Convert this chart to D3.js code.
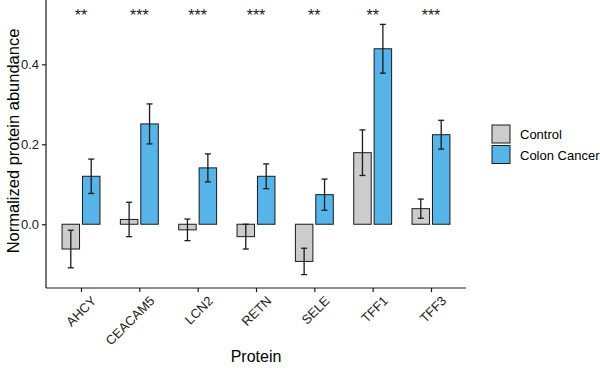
<!DOCTYPE html>
<html>
<head>
<meta charset="utf-8">
<script src="https://cdn.jsdelivr.net/npm/d3@7"></script>
<style>
  body { margin: 0; background: #fff; }
  text { font-family: Arial, "Liberation Sans", sans-serif; }
</style>
</head>
<body>
<div id="chart"></div>
<script>
// proteins and the two groups
let proteins = ['AHCY', 'CEACAM5', 'LCN2', 'RETN', 'SELE', 'TFF1', 'TFF3']
let groups = ['Control', 'Colon Cancer']
let controlMean = [-0.062, 0.012, -0.014, -0.031, -0.093, 0.179, 0.039]
let controlErr = [0.047, 0.043, 0.027, 0.031, 0.033, 0.057, 0.024]
let cancerMean = [0.12, 0.251, 0.141, 0.12, 0.074, 0.439, 0.224]
let cancerErr = [0.043, 0.05, 0.035, 0.031, 0.039, 0.061, 0.036]
let stars = ['**', '***', '***', '***', '**', '**', '***']
let yTicks = [0.0, 0.2, 0.4]

var margin = { top: 0, left: 46, right: 134, bottom: 80 }
let width = 600
let height = 368

let svg = d3
  .select('#chart')
  .append('svg')
  .attr('width', width)
  .attr('height', height)

var colorScale = d3.scaleOrdinal().domain(groups).range(['#cccccc', '#56b4e9'])

// ggplot style discrete axis: 0.6 units of padding either side
var xScale = d3
  .scaleLinear()
  .domain([-0.6, proteins.length - 1 + 0.6])
  .range([margin.left, width - margin.right])

var yScale = d3
  .scaleLinear()
  .domain([-0.1595, 0.561])
  .range([height - margin.bottom, margin.top])

var unit = xScale(1) - xScale(0)

var rows = []
proteins.forEach((p, i) => {
  rows.push({ protein: p, i: i, group: 'Control', mean: controlMean[i], err: controlErr[i], off: -0.175 })
  rows.push({ protein: p, i: i, group: 'Colon Cancer', mean: cancerMean[i], err: cancerErr[i], off: 0.175 })
})

// bars
svg
  .selectAll('.bar')
  .data(rows)
  .enter()
  .append('rect')
  .attr('class', 'bar')
  .attr('x', d => xScale(d.i + d.off - 0.15))
  .attr('width', unit * 0.3)
  .attr('y', d => yScale(Math.max(0, d.mean)))
  .attr('height', d => Math.abs(yScale(d.mean) - yScale(0)))
  .attr('fill', d => colorScale(d.group))
  .attr('stroke', '#1a1a1a')
  .attr('stroke-width', 1)

// error bars
var eb = svg.selectAll('.err').data(rows).enter().append('g').attr('class', 'err')
eb.append('line')
  .attr('x1', d => xScale(d.i + d.off))
  .attr('x2', d => xScale(d.i + d.off))
  .attr('y1', d => yScale(d.mean - d.err))
  .attr('y2', d => yScale(d.mean + d.err))
eb.append('line')
  .attr('x1', d => xScale(d.i + d.off) - 3)
  .attr('x2', d => xScale(d.i + d.off) + 3)
  .attr('y1', d => yScale(d.mean + d.err))
  .attr('y2', d => yScale(d.mean + d.err))
eb.append('line')
  .attr('x1', d => xScale(d.i + d.off) - 3)
  .attr('x2', d => xScale(d.i + d.off) + 3)
  .attr('y1', d => yScale(d.mean - d.err))
  .attr('y2', d => yScale(d.mean - d.err))
eb.selectAll('line').attr('stroke', '#1a1a1a').attr('stroke-width', 1.3)

// significance stars
svg
  .selectAll('.star')
  .data(stars)
  .enter()
  .append('text')
  .attr('class', 'star')
  .attr('x', (d, i) => xScale(i))
  .attr('y', 21)
  .attr('text-anchor', 'middle')
  .attr('font-size', 16)
  .attr('fill', '#1a1a1a')
  .text(d => d)

// y axis
var yAxis = d3
  .axisLeft(yScale)
  .tickValues(yTicks)
  .tickFormat(d3.format('.1f'))
  .tickSize(4)
  .tickPadding(3)
let yg = svg
  .append('g')
  .attr('transform', 'translate(' + margin.left + ',0)')
  .call(yAxis)
yg.select('.domain').attr('d', 'M0,' + yScale.range()[1] + 'V' + yScale.range()[0])

// x axis
var xAxis = d3
  .axisBottom(xScale)
  .tickValues(d3.range(proteins.length))
  .tickFormat(i => proteins[i])
  .tickSize(4)
  .tickPadding(3)
let xg = svg
  .append('g')
  .attr('transform', 'translate(0,' + (height - margin.bottom) + ')')
  .call(xAxis)
xg.select('.domain').attr('d', 'M' + xScale.range()[0] + ',0H' + xScale.range()[1])
xg.selectAll('.tick text')
  .attr('text-anchor', 'end')
  .attr('transform', 'translate(7,5) rotate(-45)')
  .attr('dy', '0.71em')
  .attr('y', 3)

svg.selectAll('.domain, .tick line').attr('stroke', '#1a1a1a').attr('stroke-width', 1.2)
svg.selectAll('.tick text').attr('fill', '#222').attr('font-size', 13).attr('font-family', 'Arial, Liberation Sans, sans-serif')

// axis titles
svg
  .append('text')
  .attr('x', xScale(3))
  .attr('y', 362)
  .attr('text-anchor', 'middle')
  .attr('font-size', 16)
  .text('Protein')

svg
  .append('text')
  .attr('transform', 'translate(19,' + 141 + ') rotate(-90)')
  .attr('text-anchor', 'middle')
  .attr('font-size', 16.5)
  .text('Normalized protein abundance')

// legend
var legend = svg
  .selectAll('.legend-entry')
  .data(groups)
  .enter()
  .append('g')
  .attr('class', 'legend-entry')
  .attr('transform', (d, i) => 'translate(492,' + (125 + i * 20.5) + ')')
legend
  .append('rect')
  .attr('width', 18)
  .attr('height', 18)
  .attr('fill', d => colorScale(d))
  .attr('stroke', '#1a1a1a')
  .attr('stroke-width', 1)
legend
  .append('text')
  .attr('x', 28)
  .attr('y', 14)
  .attr('font-size', 13)
  .text(d => d)
</script>
</body>
</html>
